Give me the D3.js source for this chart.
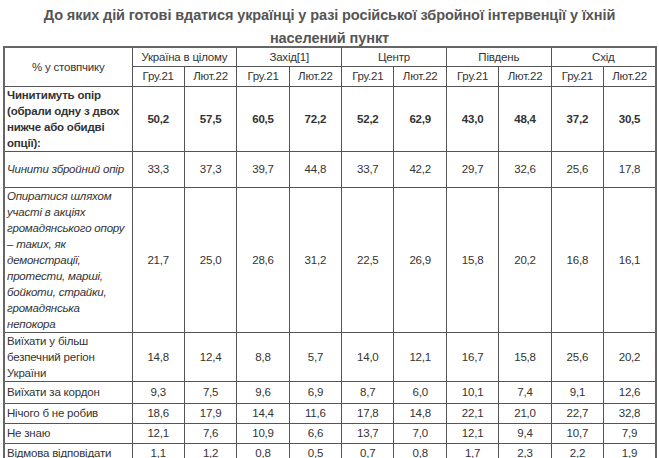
<!DOCTYPE html>
<html><head><meta charset="utf-8">
<script src="https://cdn.jsdelivr.net/npm/d3@7"></script>
<style>
body{margin:0;background:#fff;font-family:Arial,"Liberation Sans",sans-serif;color:#333;}
h1{position:absolute;left:0;top:0;font-size:14.5px;font-weight:bold;color:#555;text-align:center;margin:4px 0 0 0;line-height:23px;width:659px;letter-spacing:-0.1px;}
table{position:absolute;left:3px;top:46px;border-collapse:collapse;width:652px;table-layout:fixed;border:2px solid #666;font-size:11.5px;letter-spacing:-0.2px;}
td{border:1px solid #555;padding:0 2px;text-align:center;line-height:16px;}
td.lab{text-align:left;}
</style></head><body>
<h1>До яких дій готові вдатися українці у разі російської збройної інтервенції у їхній<br>населений пункт</h1>
<script>
const corner="% у стовпчику";
const regions=["Україна в цілому","Захід[1]","Центр","Південь","Схід"];
const periods=["Гру.21","Лют.22"];
const rowLabels=["Чинитимуть опір (обрали одну з двох нижче або обидві опції):","Чинити збройний опір","Опиратися шляхом участі в акціях громадянського опору – таких, як демонстрації, протести, марші, бойкоти, страйки, громадянська непокора","Виїхати у більш безпечний регіон України","Виїхати за кордон","Нічого б не робив","Не знаю","Відмова відповідати"];
const rowHeights=[62,36,131,47,22,20,20,21];
const values=[
["50,2","57,5","60,5","72,2","52,2","62,9","43,0","48,4","37,2","30,5"],
["33,3","37,3","39,7","44,8","33,7","42,2","29,7","32,6","25,6","17,8"],
["21,7","25,0","28,6","31,2","22,5","26,9","15,8","20,2","16,8","16,1"],
["14,8","12,4","8,8","5,7","14,0","12,1","16,7","15,8","25,6","20,2"],
["9,3","7,5","9,6","6,9","8,7","6,0","10,1","7,4","9,1","12,6"],
["18,6","17,9","14,4","11,6","17,8","14,8","22,1","21,0","22,7","32,8"],
["12,1","7,6","10,9","6,6","13,7","7,0","12,1","9,4","10,7","7,9"],
["1,1","1,2","0,8","0,5","0,7","0,8","1,7","2,3","2,2","1,9"]];
const t=d3.select("body").append("table");
const cg=t.append("colgroup");
cg.append("col").style("width","128px");
for(let i=0;i<10;i++)cg.append("col").style("width","52.4px");
const h1=t.append("tr").style("height","19px");
h1.append("td").attr("rowspan",2).text(corner);
h1.selectAll("td.r").data(regions).join("td").attr("class","r").attr("colspan",2).text(d=>d);
const h2=t.append("tr").style("height","20px");
h2.selectAll("td").data(regions.flatMap(()=>periods)).join("td").text(d=>d);
const rows=t.selectAll("tr.d").data(values).join("tr").attr("class","d").style("height",(d,i)=>rowHeights[i]+"px");
rows.append("td").attr("class","lab").style("font-weight",(d,i)=>i==0?"bold":null).style("font-style",(d,i)=>(i==1||i==2)?"italic":null).text((d,i)=>rowLabels[i]);
rows.each(function(d,i){d3.select(this).selectAll("td.v").data(d).join("td").attr("class","v").style("font-weight",i==0?"bold":null).text(v=>v);});
</script></body></html>
